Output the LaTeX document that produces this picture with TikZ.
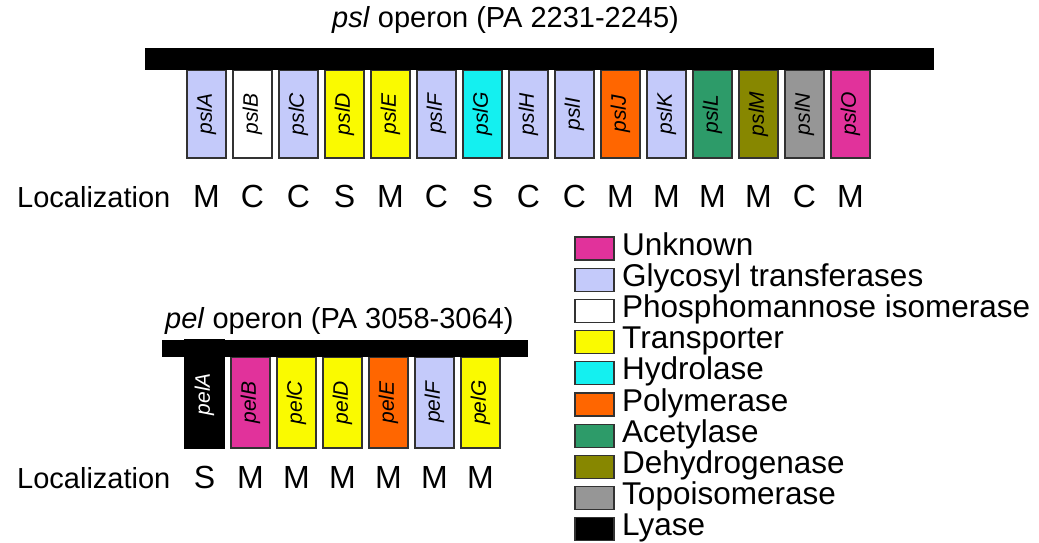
\documentclass[tikz,border=0pt]{standalone}
\usepackage{fontspec}
\setmainfont{Liberation Sans}
\definecolor{glyco}{RGB}{196,202,250}
\definecolor{unk}{RGB}{225,50,155}
\definecolor{trans}{RGB}{250,250,0}
\definecolor{hydro}{RGB}{20,240,240}
\definecolor{poly}{RGB}{255,102,0}
\definecolor{acet}{RGB}{45,155,105}
\definecolor{dehyd}{RGB}{135,135,0}
\definecolor{topo}{RGB}{150,150,150}
\definecolor{edge}{RGB}{50,50,50}
\begin{document}
\begin{tikzpicture}[x=1pt,y=-1pt,
  genebox/.style={draw=edge,line width=1.2pt,inner sep=0pt,minimum width=39pt,font=\fontsize{21}{21}\selectfont\itshape},
  barbox/.style={fill=black,inner sep=0pt},
  loc/.style={anchor=base,inner sep=0pt,font=\fontsize{32}{32}\selectfont},
  loclabel/.style={anchor=base west,inner sep=0pt,font=\fontsize{29}{29}\selectfont},
  title/.style={anchor=base west,inner sep=0pt,font=\fontsize{29}{29}\selectfont},
  swatch/.style={draw=edge,line width=1.2pt,inner sep=0pt,minimum width=39pt,minimum height=23pt},
  legtext/.style={anchor=base west,inner sep=0pt,font=\fontsize{31.5}{31.5}\selectfont}]
\useasboundingbox (0,0) rectangle (1039,543);
\fill[white] (0,0) rectangle (1039,543);
% psl operon
\node[title] (psltitle) at (332,28) {\textit{psl} operon (PA 2231-2245)};
\foreach \g/\c/\l [count=\i from 0] in {A/glyco/M,B/white/C,C/glyco/C,D/trans/S,E/trans/M,F/glyco/C,G/hydro/S,H/glyco/C,I/glyco/C,J/poly/M,K/glyco/M,L/acet/M,M/dehyd/M,N/topo/C,O/unk/M}{
  \node[genebox,fill=\c,minimum height=88pt] (psl\g) at ({206.5+46*\i},114) {\rotatebox{90}{psl\g}};
  \node[loc] (locpsl\g) at ({206.5+46*\i},207) {\l};
}
\node[barbox,minimum width=789pt,minimum height=22pt] (pslbar) at (539.5,59) {};
\node[loclabel] (loc1) at (17,207) {Localization};
% pel operon
\node[title] (peltitle) at (165,328) {\textit{pel} operon (PA 3058-3064)};
\node[genebox,draw=black,fill=black,text=white,minimum height=108pt] (pelA) at (204.5,394) {\rotatebox{90}{pelA}};
\node[loc] (locpelA) at (204.5,488) {S};
\foreach \g/\c/\l [count=\i from 1] in {B/unk/M,C/trans/M,D/trans/M,E/poly/M,F/glyco/M,G/trans/M}{
  \node[genebox,fill=\c,minimum height=91pt] (pel\g) at ({204.5+46*\i},402.5) {\rotatebox{90}{pel\g}};
  \node[loc] (locpel\g) at ({204.5+46*\i},488) {\l};
}
\node[barbox,minimum width=366pt,minimum height=17pt] (pelbar) at (345,348.5) {};
\node[loclabel] (loc2) at (17,488) {Localization};
% legend
\foreach \c/\t [count=\i from 0] in {unk/Unknown,glyco/Glycosyl transferases,white/Phosphomannose isomerase,trans/Transporter,hydro/Hydrolase,poly/Polymerase,acet/Acetylase,dehyd/Dehydrogenase,topo/Topoisomerase,black/Lyase}{
  \node[swatch,fill=\c] (sw\i) at (594.5,{248.5+31.2*\i}) {};
  \node[legtext] (lt\i) at (622,{255+31.2*\i}) {\t};
}
\end{tikzpicture}
\end{document}
